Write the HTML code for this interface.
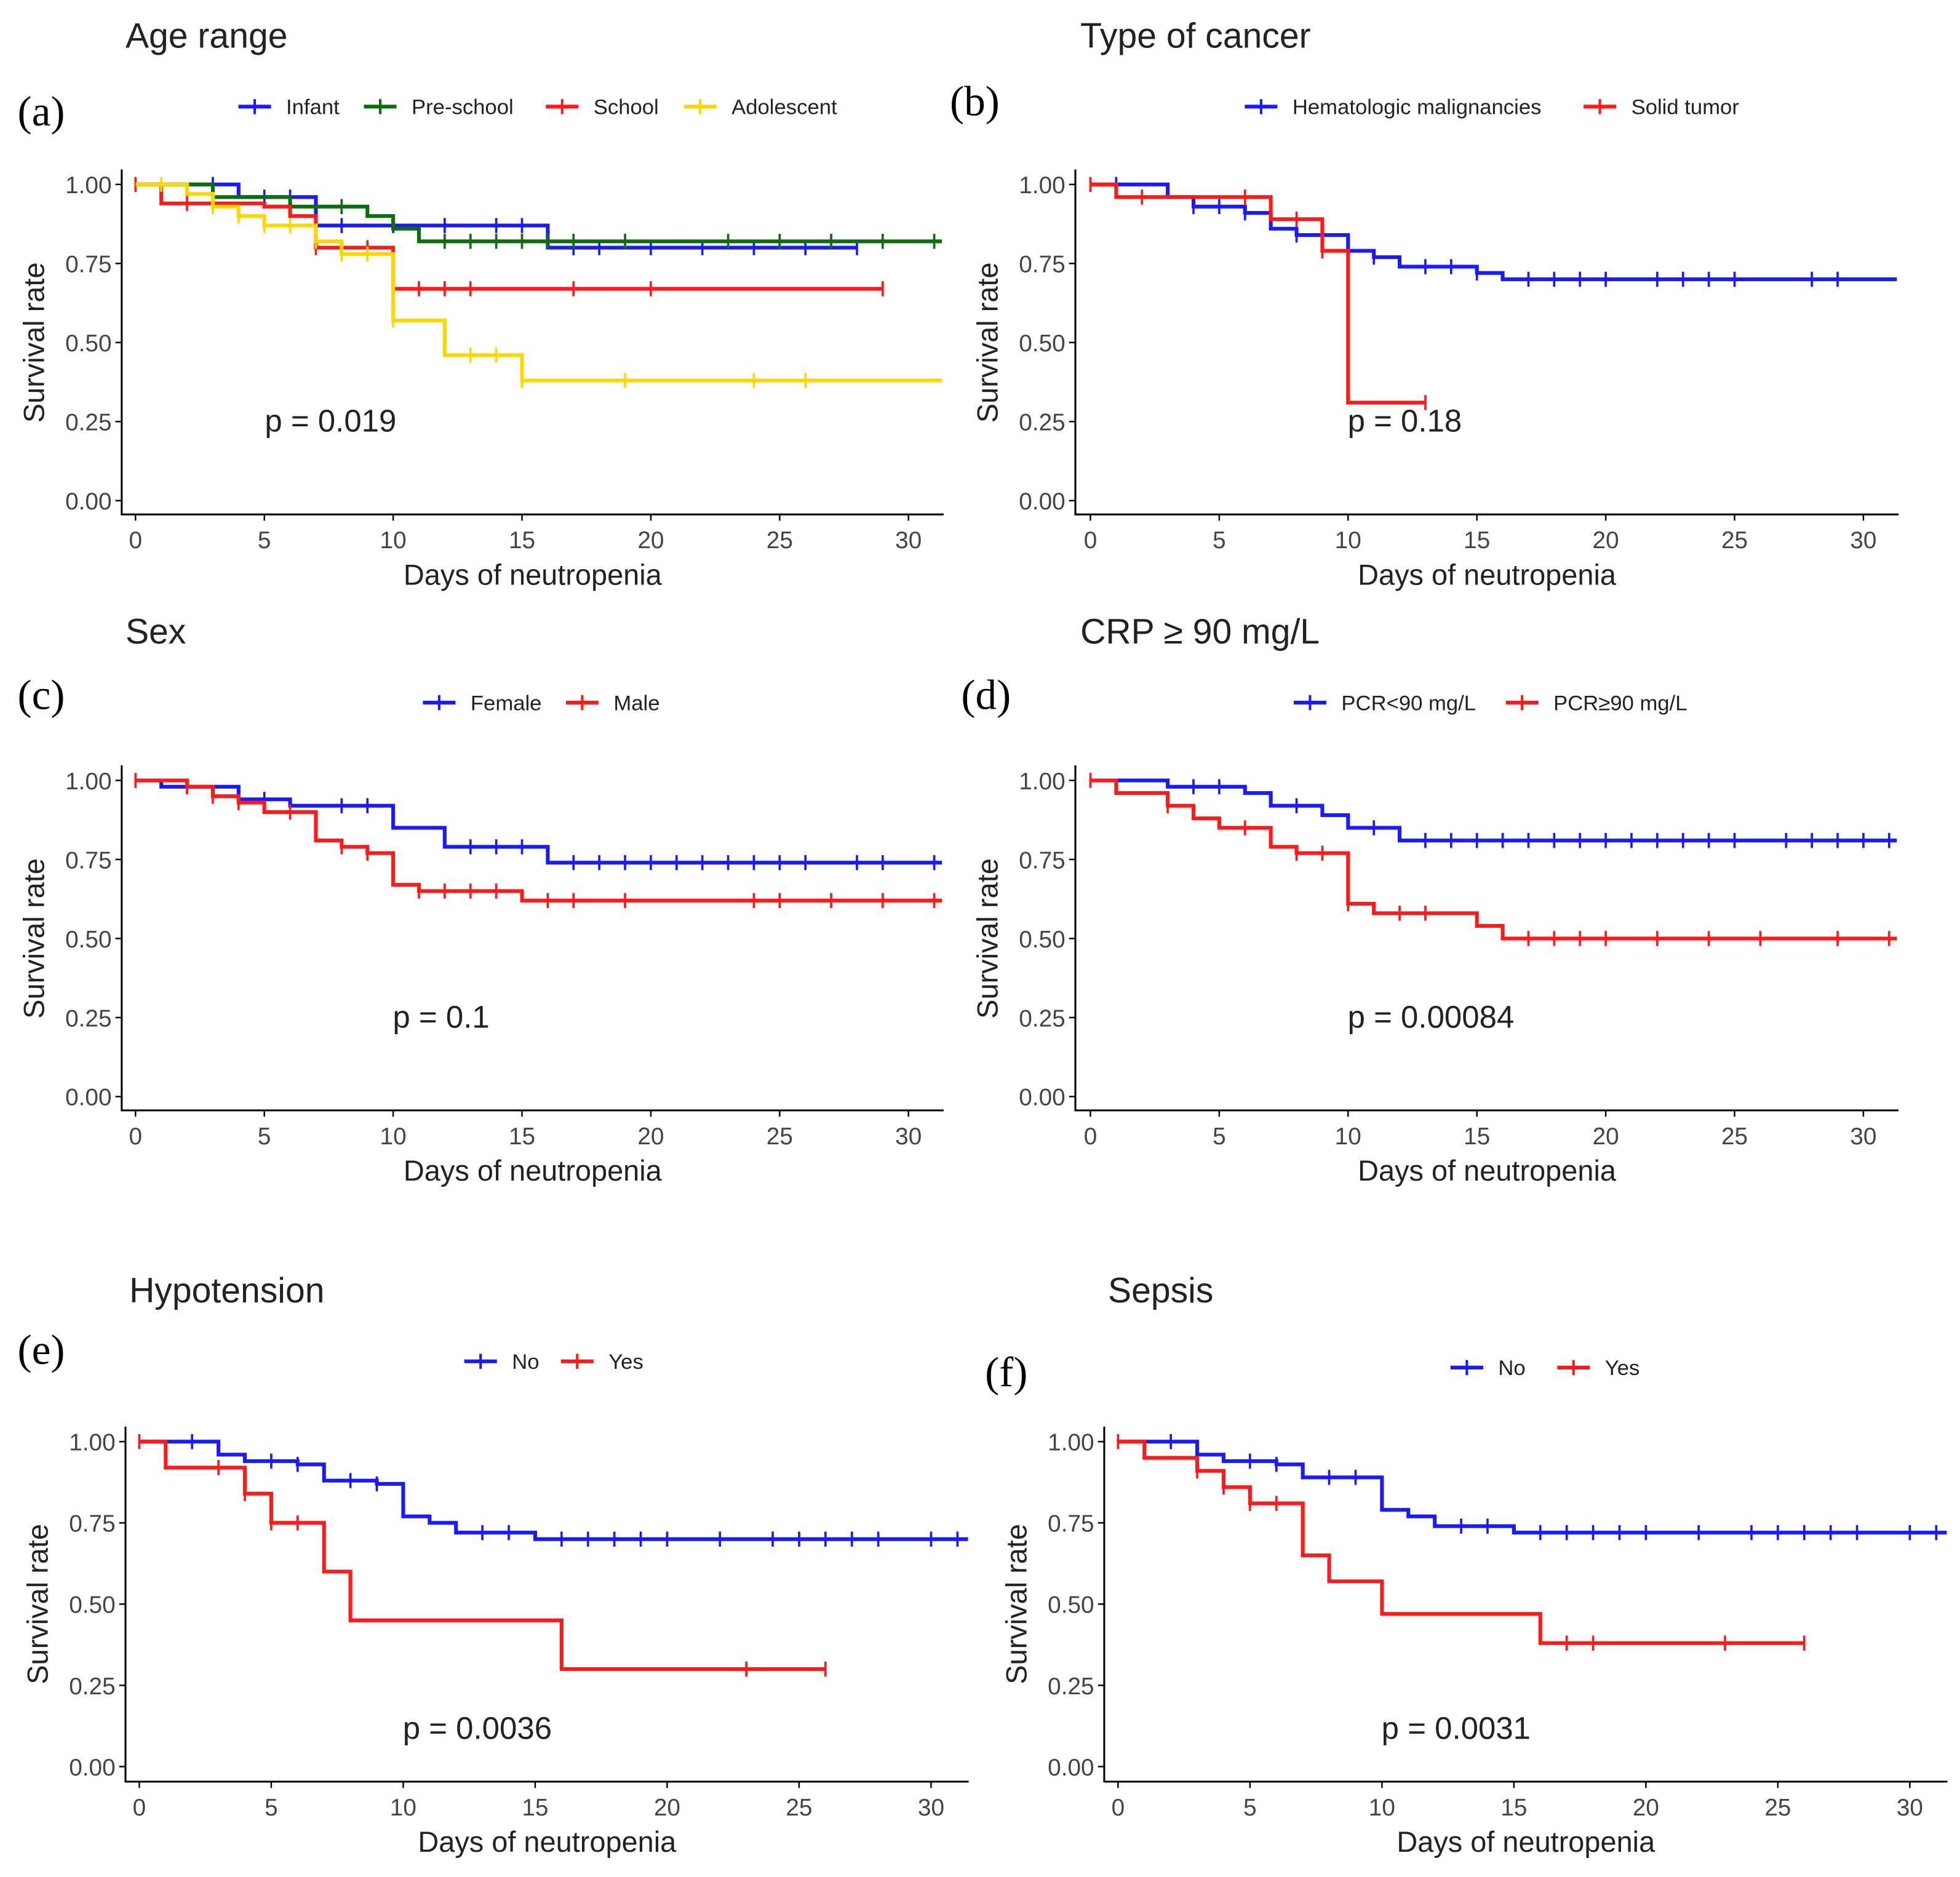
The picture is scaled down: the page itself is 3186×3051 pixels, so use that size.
<!DOCTYPE html>
<html><head><meta charset="utf-8"><style>
html,body{margin:0;padding:0;background:#fff;}
svg{display:block;font-family:"Liberation Sans",sans-serif;}
</style></head><body>
<svg id="fig" width="3186" height="3051" viewBox="0 0 1562 1496" preserveAspectRatio="none" xmlns="http://www.w3.org/2000/svg"></svg>
<script>
// ---- data ----
const xTicks = [0,5,10,15,20,25,30];
const yTicks = [0,0.25,0.5,0.75,1];
const yTickLabels = ["0.00","0.25","0.50","0.75","1.00"];
// (a) Age range
const aInfantT=[0,4,7,16]; const aInfantS=[1,0.96,0.87,0.80]; const aInfantC=[3,5,6,8,10,12,14,15,17,18,20,22,24,26,28]; const aInfantEnd=28;
const aPreT=[0,3,6,9,10,11]; const aPreS=[1,0.96,0.93,0.90,0.86,0.82]; const aPreC=[8,12,13,14,15,16,17,19,23,25,27,29,31]; const aPreEnd=31.3;
const aSchT=[0,1,5,6,7,10]; const aSchS=[1,0.94,0.93,0.90,0.80,0.67]; const aSchC=[0,2,7,8,9,11,12,13,17,20,29]; const aSchEnd=29;
const aAdoT=[0,2,3,4,5,7,8,10,12,15]; const aAdoS=[1,0.97,0.93,0.90,0.87,0.82,0.78,0.57,0.46,0.38]; const aAdoC=[1,3,4,5,6,7,8,9,10,13,14,15,19,24,26]; const aAdoEnd=31.3;
// (b) Type of cancer
const bHemT=[0,3,4,6,7,8,10,11,12,15,16]; const bHemS=[1,0.96,0.93,0.91,0.86,0.84,0.79,0.77,0.74,0.72,0.70]; const bHemC=[1,4,5,6,8,9,11,13,14,15,17,18,19,20,22,23,24,25,28,29]; const bHemEnd=31.3;
const bSolT=[0,1,7,9,10]; const bSolS=[1,0.96,0.89,0.79,0.31]; const bSolC=[0,2,6,8,9,13]; const bSolEnd=13;
// (c) Sex
const cFemT=[0,1,4,6,10,12,16]; const cFemS=[1,0.98,0.94,0.92,0.85,0.79,0.74]; const cFemC=[2,5,8,9,13,14,15,17,18,19,20,21,22,23,24,25,26,28,29,31]; const cFemEnd=31.3;
const cMalT=[0,2,3,4,5,7,8,9,10,11,15]; const cMalS=[1,0.98,0.95,0.93,0.90,0.81,0.79,0.77,0.67,0.65,0.62]; const cMalC=[0,2,3,4,6,8,9,11,12,13,14,16,17,19,24,25,27,29,31]; const cMalEnd=31.3;
// (d) CRP
const dLoT=[0,3,6,7,9,10,12]; const dLoS=[1,0.98,0.96,0.92,0.89,0.85,0.81]; const dLoC=[4,5,8,11,13,14,15,16,17,18,19,20,21,22,23,24,25,27,28,29,30,31]; const dLoEnd=31.3;
const dHiT=[0,1,3,4,5,7,8,10,11,15,16]; const dHiS=[1,0.96,0.92,0.88,0.85,0.79,0.77,0.61,0.58,0.54,0.50]; const dHiC=[0,3,6,8,9,10,12,13,17,18,19,20,22,24,26,29,31]; const dHiEnd=31.3;
// (e) Hypotension
const eNoT=[0,3,4,6,7,9,10,11,12,15]; const eNoS=[1,0.96,0.94,0.93,0.88,0.87,0.77,0.75,0.72,0.70]; const eNoC=[2,5,6,8,9,13,14,16,17,18,19,20,22,24,25,26,27,28,30,31]; const eNoEnd=31.4;
const eYesT=[0,1,4,5,7,8,16]; const eYesS=[1,0.92,0.84,0.75,0.60,0.45,0.30]; const eYesC=[0,3,4,5,6,23,26]; const eYesEnd=26;
// (f) Sepsis
const fNoT=[0,3,4,6,7,10,11,12,15]; const fNoS=[1,0.96,0.94,0.93,0.89,0.79,0.77,0.74,0.72]; const fNoC=[2,5,6,8,9,13,14,16,17,18,19,20,22,24,25,26,27,28,30,31]; const fNoEnd=31.4;
const fYesT=[0,1,3,4,5,7,8,10,16]; const fYesS=[1,0.95,0.91,0.86,0.81,0.65,0.57,0.47,0.38]; const fYesC=[0,3,4,5,6,17,18,23,26]; const fYesEnd=26;

const BLUE="#1a1aff", RED="#ff1a1a", GREEN="#0a6e0a", YEL="#ffd700";
const panels=[
 {letter:"(a)",lx:14,ly:100,title:"Age range",tx:100,ty:38,ly2:85,legend:[["Infant",BLUE,190],["Pre-school",GREEN,290],["School",RED,435],["Adolescent",YEL,545]],
  x0:108,x30:724,y1:147,y0:399,axL:97,axB:410,axR:752,p:"p = 0.019",px:211,py:344,
  series:[[aInfantT,aInfantS,aInfantC,aInfantEnd,BLUE],[aPreT,aPreS,aPreC,aPreEnd,GREEN],[aSchT,aSchS,aSchC,aSchEnd,RED],[aAdoT,aAdoS,aAdoC,aAdoEnd,YEL]]},
 {letter:"(b)",lx:757,ly:92,title:"Type of cancer",tx:861,ty:38,ly2:85,legend:[["Hematologic malignancies",BLUE,992],["Solid tumor",RED,1262]],
  x0:869,x30:1485,y1:147,y0:399,axL:857,axB:410,axR:1513,p:"p = 0.18",px:1074,py:344,
  series:[[bHemT,bHemS,bHemC,bHemEnd,BLUE],[bSolT,bSolS,bSolC,bSolEnd,RED]]},
 {letter:"(c)",lx:14,ly:565,title:"Sex",tx:100,ty:513,ly2:560,legend:[["Female",BLUE,337],["Male",RED,451]],
  x0:108,x30:724,y1:622,y0:874,axL:97,axB:885,axR:752,p:"p = 0.1",px:313,py:819,
  series:[[cFemT,cFemS,cFemC,cFemEnd,BLUE],[cMalT,cMalS,cMalC,cMalEnd,RED]]},
 {letter:"(d)",lx:766,ly:565,title:"CRP ≥ 90 mg/L",tx:861,ty:513,ly2:560,legend:[["PCR<90 mg/L",BLUE,1031],["PCR≥90 mg/L",RED,1200]],
  x0:869,x30:1485,y1:622,y0:874,axL:857,axB:885,axR:1513,p:"p = 0.00084",px:1074,py:819,
  series:[[dLoT,dLoS,dLoC,dLoEnd,BLUE],[dHiT,dHiS,dHiC,dHiEnd,RED]]},
 {letter:"(e)",lx:14,ly:1087,title:"Hypotension",tx:103,ty:1038,ly2:1085,legend:[["No",BLUE,370],["Yes",RED,447]],
  x0:111,x30:742,y1:1149,y0:1408,axL:100,axB:1420,axR:772,p:"p = 0.0036",px:321,py:1386,
  series:[[eNoT,eNoS,eNoC,eNoEnd,BLUE],[eYesT,eYesS,eYesC,eYesEnd,RED]]},
 {letter:"(f)",lx:785,ly:1105,title:"Sepsis",tx:883,ty:1038,ly2:1090,legend:[["No",BLUE,1156],["Yes",RED,1241]],
  x0:891,x30:1522,y1:1149,y0:1408,axL:880,axB:1420,axR:1552,p:"p = 0.0031",px:1101,py:1386,
  series:[[fNoT,fNoS,fNoC,fNoEnd,BLUE],[fYesT,fYesS,fYesC,fYesEnd,RED]]}
];
const NS="http://www.w3.org/2000/svg", svg=document.getElementById("fig");
function mk(tag,attrs,parent,text){const e=document.createElementNS(NS,tag);for(const k in attrs)e.setAttribute(k,attrs[k]);if(text!==undefined)e.textContent=text;(parent||svg).appendChild(e);return e;}
panels.forEach((P,pi)=>{
 const g=mk("g",{});
 
 
 const X=d=>P.x0+(P.x30-P.x0)*d/30, Y=s=>P.y0+(P.y1-P.y0)*s;
 let t=mk("text",{x:P.lx,y:P.ly,"font-family":"Liberation Serif,serif","font-size":34},g,P.letter);
 
 
 t=mk("text",{x:P.tx,y:P.ty,"font-size":28,fill:"#222"},g,P.title);
 
 
 P.legend.forEach(L=>{
  const lg=mk("g",{},g);
  
  
  mk("line",{x1:L[2],x2:L[2]+26,y1:P.ly2,y2:P.ly2,stroke:L[1],"stroke-width":3},lg);
  mk("line",{x1:L[2]+13,x2:L[2]+13,y1:P.ly2-6,y2:P.ly2+6,stroke:L[1],"stroke-width":2},lg);
  mk("text",{x:L[2]+38,y:P.ly2+6,"font-size":17,fill:"#222"},lg,L[0]);
 });
 const ax=mk("path",{d:`M${P.axL},${P.y1-12}V${P.axB}H${P.axR}`,fill:"none",stroke:"#000","stroke-width":1.5},g);
 
 
 xTicks.forEach(v=>{
  mk("line",{x1:X(v),x2:X(v),y1:P.axB,y2:P.axB+5,stroke:"#000","stroke-width":1.2},g);
  const tt=mk("text",{x:X(v),y:P.axB+27,"font-size":19,fill:"#444","text-anchor":"middle"},g,String(v));
  
  
 });
 yTicks.forEach((v,i)=>{
  mk("line",{x1:P.axL-5,x2:P.axL,y1:Y(v),y2:Y(v),stroke:"#000","stroke-width":1.2},g);
  const tt=mk("text",{x:P.axL-8,y:Y(v)+7,"font-size":19,fill:"#444","text-anchor":"end"},g,yTickLabels[i]);
  
  
 });
 const xl=mk("text",{x:(P.axL+P.axR)/2,y:P.axB+56,"font-size":23,fill:"#222","text-anchor":"middle"},g,"Days of neutropenia");
 
 
 const yc=(P.y0+P.y1)/2;
 const yl=mk("text",{x:0,y:0,transform:`translate(${P.axL-62},${yc}) rotate(-90)`,"font-size":23,fill:"#222","text-anchor":"middle"},g,"Survival rate");
 
 
 P.series.forEach(S=>{
  const [T,Sv,C,end,col]=S;
  let d=`M${X(T[0])},${Y(Sv[0])}`;
  for(let i=1;i<T.length;i++){d+=`H${X(T[i])}V${Y(Sv[i])}`;}
  d+=`H${X(end)}`;
  const pth=mk("path",{d,fill:"none",stroke:col,"stroke-width":3},g);
  
  
  const sAt=tm=>{let s=Sv[0];for(let i=0;i<T.length;i++)if(T[i]<=tm)s=Sv[i];return s;};
  C.forEach(c=>{
   const m=mk("line",{x1:X(c),x2:X(c),y1:Y(sAt(c))-6,y2:Y(sAt(c))+6,stroke:col,"stroke-width":1.8},g);
   
   
  });
 });
 const pv=mk("text",{x:P.px,y:P.py,"font-size":25,fill:"#222"},g,P.p);
 
 
});
</script>
</body></html>
